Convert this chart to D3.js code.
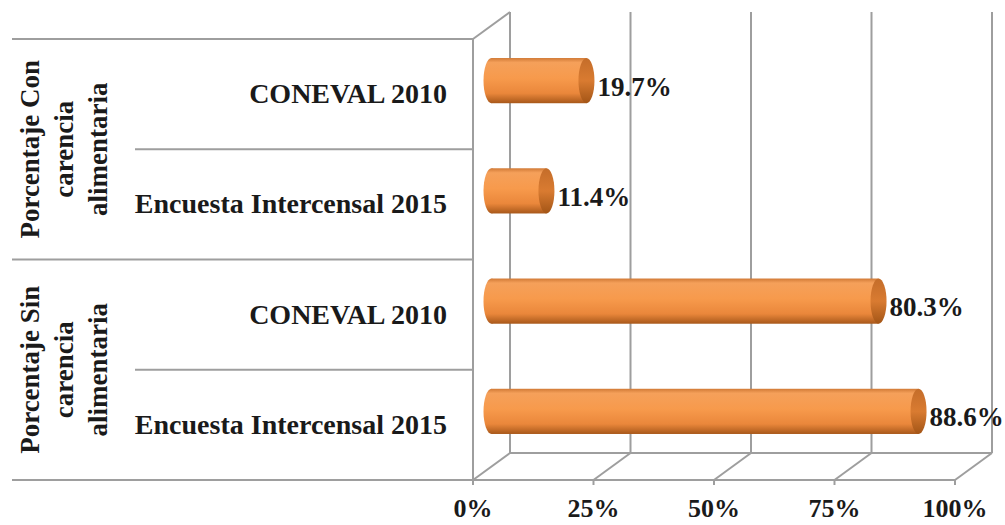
<!DOCTYPE html>
<html>
<head>
<meta charset="utf-8">
<script src="https://cdn.jsdelivr.net/npm/d3@7"></script>
<style>
  body { margin: 0; background: #fff; }
  text { font-family: "Liberation Serif", "DejaVu Serif", serif; font-weight: bold; fill: #1a1a1a; }
</style>
</head>
<body>
<div id="chart"></div>
<script>
const WIDTH = 1005;
const HEIGHT = 525;

// data
const groups = [
    ['Porcentaje Con', 'carencia', 'alimentaria'],
    ['Porcentaje Sin', 'carencia', 'alimentaria']
];
const categories = ['CONEVAL 2010', 'Encuesta Intercensal 2015', 'CONEVAL 2010', 'Encuesta Intercensal 2015'];
const values = [19.7, 11.4, 80.3, 88.6];
const tickValues = [0, 25, 50, 75, 100];

const SVG = d3.select('#chart').append('svg')
    .attr('width', WIDTH)
    .attr('height', HEIGHT);

// front plane of the 3d box, and the depth offset to the back wall
const plot = { left: 473, right: 955, top: 39, bottom: 480 };
const depth = { dx: 37, dy: -27 };
const gridColor = '#9e9e9e';

const x = d3.scaleLinear().domain([0, 100]).range([plot.left, plot.right]);
const y = d3.scaleBand().domain(d3.range(categories.length)).range([plot.top, plot.bottom]);

// gradients for the cylinders
const defs = SVG.append('defs');
const body = defs.append('linearGradient').attr('id', 'body').attr('x1', 0).attr('y1', 0).attr('x2', 0).attr('y2', 1);
[['0%', '#d17a36'], ['10%', '#f5a05a'], ['45%', '#f79a4c'], ['78%', '#ea873b'], ['100%', '#a8581a']]
    .forEach(s => body.append('stop').attr('offset', s[0]).attr('stop-color', s[1]));
const cap = defs.append('linearGradient').attr('id', 'cap').attr('x1', 0).attr('y1', 0).attr('x2', 0).attr('y2', 1);
[['0%', '#c46d2a'], ['50%', '#d97b31'], ['100%', '#a35516']]
    .forEach(s => cap.append('stop').attr('offset', s[0]).attr('stop-color', s[1]));

const grid = SVG.append('g').attr('stroke', gridColor).attr('stroke-width', 2).attr('fill', 'none');

// back wall gridlines
grid.selectAll('.back')
    .data(tickValues)
    .enter().append('line')
    .attr('x1', d => x(d) + depth.dx)
    .attr('x2', d => x(d) + depth.dx)
    .attr('y1', plot.top + depth.dy)
    .attr('y2', plot.bottom + depth.dy);

// floor: diagonals, back edge, front edge, ticks
grid.selectAll('.diag')
    .data(tickValues)
    .enter().append('line')
    .attr('x1', d => x(d))
    .attr('y1', plot.bottom)
    .attr('x2', d => x(d) + depth.dx)
    .attr('y2', plot.bottom + depth.dy);
grid.append('line')
    .attr('x1', x(0) + depth.dx).attr('x2', x(100) + depth.dx)
    .attr('y1', plot.bottom + depth.dy).attr('y2', plot.bottom + depth.dy);
grid.append('line')
    .attr('x1', 12).attr('x2', x(100))
    .attr('y1', plot.bottom).attr('y2', plot.bottom);
grid.selectAll('.tick')
    .data(tickValues)
    .enter().append('line')
    .attr('x1', d => x(d)).attr('x2', d => x(d))
    .attr('y1', plot.bottom).attr('y2', plot.bottom + 5);

// left wall
grid.append('line')
    .attr('x1', plot.left).attr('x2', plot.left)
    .attr('y1', plot.top).attr('y2', plot.bottom);
grid.append('line')
    .attr('x1', plot.left).attr('y1', plot.top)
    .attr('x2', plot.left + depth.dx).attr('y2', plot.top + depth.dy);

// category separators (groups span the full width, rows only the inner column)
grid.append('line')
    .attr('x1', 12).attr('x2', plot.left)
    .attr('y1', plot.top).attr('y2', plot.top);
grid.selectAll('.sep')
    .data(d3.range(1, categories.length))
    .enter().append('line')
    .attr('x1', d => d % 2 === 0 ? 12 : 135)
    .attr('x2', plot.left)
    .attr('y1', d => y(d))
    .attr('y2', d => y(d));

// cylinders
const ry = y.bandwidth() * 0.205;
const rx = 8;
const bars = SVG.append('g')
    .selectAll('g')
    .data(values)
    .enter().append('g')
    .attr('transform', (d, i) => `translate(${depth.dx / 2},${y(i) + y.bandwidth() / 2 + depth.dy / 2})`);

bars.append('ellipse')
    .attr('cx', x(0)).attr('cy', 0)
    .attr('rx', rx).attr('ry', ry)
    .attr('fill', 'url(#body)');
bars.append('rect')
    .attr('x', x(0))
    .attr('y', -ry)
    .attr('width', d => x(d) - x(0))
    .attr('height', ry * 2)
    .attr('fill', 'url(#body)');
bars.append('ellipse')
    .attr('cx', d => x(d)).attr('cy', 0)
    .attr('rx', rx).attr('ry', ry)
    .attr('fill', 'url(#cap)');

// value labels
bars.append('text')
    .attr('x', d => x(d) + rx + 3)
    .attr('y', 15)
    .attr('font-size', 27)
    .text(d => d.toFixed(1) + '%');

// category labels
SVG.append('g')
    .selectAll('text')
    .data(categories)
    .enter().append('text')
    .attr('x', 447)
    .attr('y', (d, i) => y(i) + y.bandwidth() / 2 + 9)
    .attr('text-anchor', 'end')
    .attr('font-size', 28)
    .text(d => d);

// group labels, rotated
const groupLabels = SVG.append('g')
    .selectAll('text')
    .data(groups)
    .enter().append('text')
    .attr('transform', (d, i) => `translate(39,${y(i * 2 + 1)}) rotate(-90)`)
    .attr('text-anchor', 'middle')
    .attr('font-size', 27);
groupLabels.selectAll('tspan')
    .data(d => d)
    .enter().append('tspan')
    .attr('x', 0)
    .attr('dy', (d, i) => i === 0 ? 0 : 34)
    .text(d => d);

// x axis labels
SVG.append('g')
    .selectAll('text')
    .data(tickValues)
    .enter().append('text')
    .attr('x', d => x(d))
    .attr('y', 517)
    .attr('text-anchor', 'middle')
    .attr('font-size', 26)
    .text(d => d + '%');
</script>
</body>
</html>
